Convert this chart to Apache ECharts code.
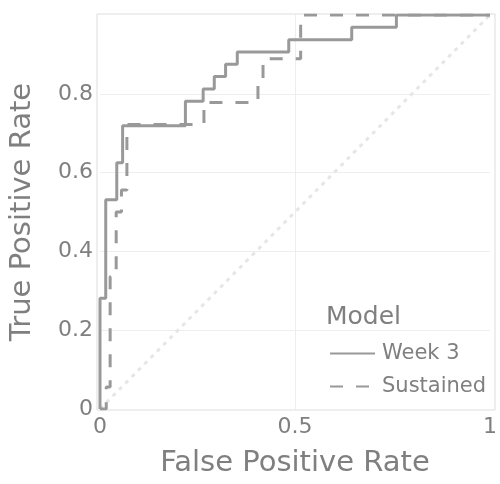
<!DOCTYPE html>
<html>
<head>
<meta charset="utf-8">
<script src="https://cdn.jsdelivr.net/npm/echarts@6/dist/echarts.min.js"></script>
<style>html,body{margin:0;padding:0;background:#fff}#c{width:500px;height:484px}</style>
</head>
<body>
<div id="c"></div>
<script>
const seriesNames = ['Week 3', 'Sustained'];
const legendTitle = 'Model';
const xAxisTitle = 'False Positive Rate';
const yAxisTitle = 'True Positive Rate';

// ROC points
const week3FPR = [0, 0, 0.0147, 0.0147, 0.043, 0.043, 0.058, 0.058, 0.219, 0.219, 0.2645, 0.2645, 0.293, 0.293, 0.322, 0.322, 0.352, 0.352, 0.484, 0.484, 0.6455, 0.6455, 0.760, 0.760, 1];
const week3TPR = [0, 0.28125, 0.28125, 0.53125, 0.53125, 0.625, 0.625, 0.71875, 0.71875, 0.78125, 0.78125, 0.8125, 0.8125, 0.84375, 0.84375, 0.875, 0.875, 0.90625, 0.90625, 0.9375, 0.9375, 0.96875, 0.96875, 1, 1];

const sustFPR = [0, 0.016, 0.016, 0.026, 0.026, 0.0415, 0.0415, 0.055, 0.055, 0.069, 0.069, 0.2665, 0.2665, 0.405, 0.405, 0.418, 0.418, 0.5145, 0.5145, 1];
const sustTPR = [0, 0, 0.056, 0.056, 0.336, 0.336, 0.5, 0.5, 0.556, 0.556, 0.722, 0.722, 0.778, 0.778, 0.833, 0.833, 0.889, 0.889, 1, 1];

const chanceFPR = [0, 1];
const chanceTPR = [0, 1];

const zip = (a, b) => a.map((v, i) => [v, b[i]]);
const FONT = 'DejaVu Sans';
const TXT = '#7f7f7f';
const LINE = '#999999';

const chart = echarts.init(document.getElementById('c'), null, {renderer: 'canvas'});
chart.setOption({
  animation: false,
  backgroundColor: '#fff',
  textStyle: {fontFamily: FONT},
  title: {
    text: legendTitle, left: 326, top: 305, padding: 0,
    textStyle: {fontFamily: FONT, fontSize: 25, fontWeight: 'normal', color: TXT}
  },
  legend: {
    data: seriesNames,
    orient: 'vertical',
    left: 329, top: 343,
    padding: 0,
    itemWidth: 45, itemHeight: 14, itemGap: 12,
    itemStyle: {opacity: 0},
    textStyle: {fontFamily: FONT, fontSize: 21, color: TXT, padding: [0, 0, 0, 2]}
  },
  grid: [
    {left: 98.7, right: 9, top: 15, bottom: 75, show: false},
    {left: 97, right: 5, top: 14, bottom: 74, show: true, borderColor: '#dddddd', borderWidth: 1, backgroundColor: 'transparent', z: 0}
  ],
  xAxis: [
    {
      gridIndex: 0, type: 'value', min: 0, max: 1, interval: 0.5,
      name: xAxisTitle, nameLocation: 'middle', nameGap: 40,
      nameTextStyle: {fontFamily: FONT, fontSize: 29, color: TXT},
      axisLine: {show: false}, axisTick: {show: false},
      axisLabel: {fontFamily: FONT, fontSize: 22, color: TXT, margin: 7},
      splitLine: {show: true, showMinLine: false, showMaxLine: false, lineStyle: {color: '#eeeeee', width: 1}}
    },
    {gridIndex: 1, type: 'value', min: 0, max: 1, show: false}
  ],
  yAxis: [
    {
      gridIndex: 0, type: 'value', min: 0, max: 1, interval: 0.2,
      name: yAxisTitle, nameLocation: 'middle', nameGap: 63,
      nameTextStyle: {fontFamily: FONT, fontSize: 29, color: TXT},
      axisLine: {show: false}, axisTick: {show: false},
      axisLabel: {fontFamily: FONT, fontSize: 22, color: TXT, margin: 7, showMaxLabel: false},
      splitLine: {show: true, showMinLine: false, showMaxLine: false, lineStyle: {color: '#eeeeee', width: 1}}
    },
    {gridIndex: 1, type: 'value', min: 0, max: 1, show: false}
  ],
  series: [
    {
      name: 'Chance', type: 'line', xAxisIndex: 0, yAxisIndex: 0,
      data: zip(chanceFPR, chanceTPR), symbol: 'none', silent: true,
      lineStyle: {color: '#e6e6e6', width: 3, type: [4, 5]}, z: 1
    },
    {
      name: seriesNames[0], type: 'line', xAxisIndex: 0, yAxisIndex: 0,
      data: zip(week3FPR, week3TPR), symbol: 'none',
      itemStyle: {color: LINE},
      lineStyle: {color: LINE, width: 3, type: 'solid'}, z: 2
    },
    {
      name: seriesNames[1], type: 'line', xAxisIndex: 0, yAxisIndex: 0,
      data: zip(sustFPR, sustTPR), symbol: 'none',
      itemStyle: {color: LINE},
      lineStyle: {color: LINE, width: 3, type: [13, 13]}, z: 3
    }
  ]
});
</script>
</body>
</html>
